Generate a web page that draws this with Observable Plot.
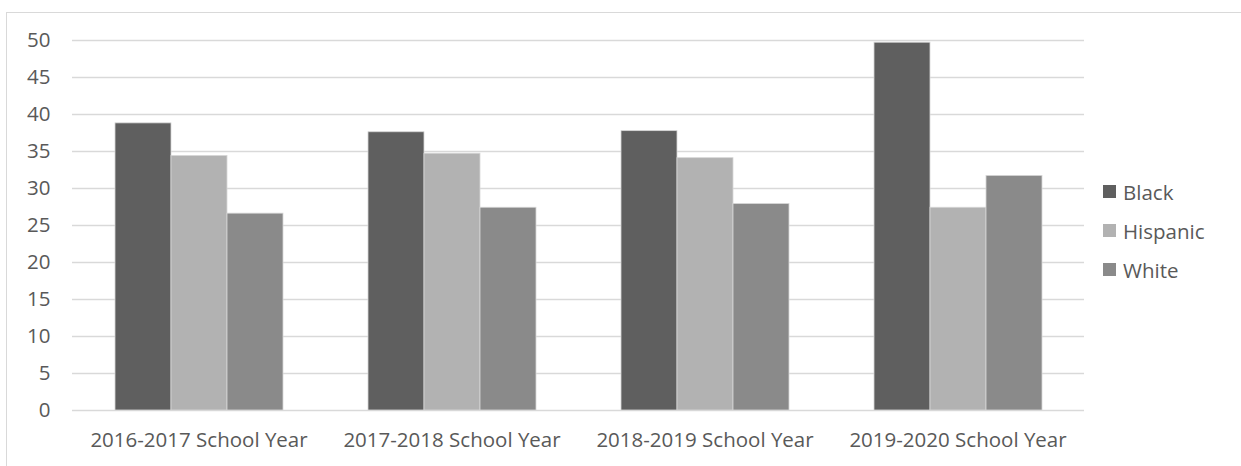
<!DOCTYPE html>
<html>
<head>
<meta charset="utf-8">
<script src="https://cdn.jsdelivr.net/npm/d3@7"></script>
<script src="https://cdn.jsdelivr.net/npm/@observablehq/plot@0.6"></script>
<style>
  html, body { margin: 0; padding: 0; background: #fff; }
  #wrap { position: relative; width: 1241px; height: 466px; overflow: hidden; font-family: "Open Sans", sans-serif; }
  #frame { position: absolute; left: 6px; top: 12px; width: 1300px; height: 500px; border: 1px solid #d9d9d9; box-sizing: border-box; }
  #chart { position: absolute; left: 0; top: 0; }
  #legend { position: absolute; left: 1103px; top: 172px; font-size: 20.5px; color: #595959; }
  .item { display: flex; align-items: center; height: 39px; }
  .sw { width: 13px; height: 13px; margin-right: 7px; }
</style>
</head>
<body>
<div id="wrap">
  <div id="frame"></div>
  <div id="chart"></div>
  <div id="legend"></div>
</div>
<script>
const categories = ["2016-2017 School Year", "2017-2018 School Year", "2018-2019 School Year", "2019-2020 School Year"];
const series = ["Black", "Hispanic", "White"];
const black = [38.8, 37.6, 37.75, 49.7];
const hispanic = [34.4, 34.7, 34.1, 27.4];
const white = [26.6, 27.4, 27.9, 31.7];
const yTicks = [0, 5, 10, 15, 20, 25, 30, 35, 40, 45, 50];
const colors = ["#5f5f5f", "#b2b2b2", "#8a8a8a"];

const values = {Black: black, Hispanic: hispanic, White: white};
const data = [];
categories.forEach((c, i) => series.forEach(s => data.push({category: c, series: s, value: values[s][i]})));

const chart = Plot.plot({
  width: 1241,
  height: 466,
  marginLeft: 70,
  marginRight: 156,
  marginTop: 40,
  marginBottom: 56,
  style: {fontFamily: "'Open Sans', sans-serif", fontSize: "20.5px", color: "#595959", background: "transparent"},
  fx: {domain: categories, padding: 0, label: null, tickSize: 0, tickPadding: 22, axis: "bottom"},
  x: {domain: series, axis: null, paddingInner: 0, paddingOuter: 0.755},
  y: {domain: [0, 50], ticks: yTicks, tickSize: 0, tickPadding: 22, label: null},
  color: {domain: series, range: colors},
  marks: [
    Plot.ruleY(yTicks, {stroke: "#d9d9d9", strokeWidth: 1.5}),
    Plot.barY(data, {fx: "category", x: "series", y: "value", fill: "series", stroke: "#d6d6d6", strokeWidth: 0.8})
  ]
});
chart.querySelectorAll("text").forEach(t => t.style.fontSize = "20.5px");
document.getElementById("chart").appendChild(chart);

const legend = document.getElementById("legend");
series.forEach((s, i) => {
  const item = document.createElement("div");
  item.className = "item";
  const sw = document.createElement("div");
  sw.className = "sw";
  sw.style.background = colors[i];
  const t = document.createElement("span");
  t.textContent = s;
  item.appendChild(sw);
  item.appendChild(t);
  legend.appendChild(item);
});
</script>
</body>
</html>
